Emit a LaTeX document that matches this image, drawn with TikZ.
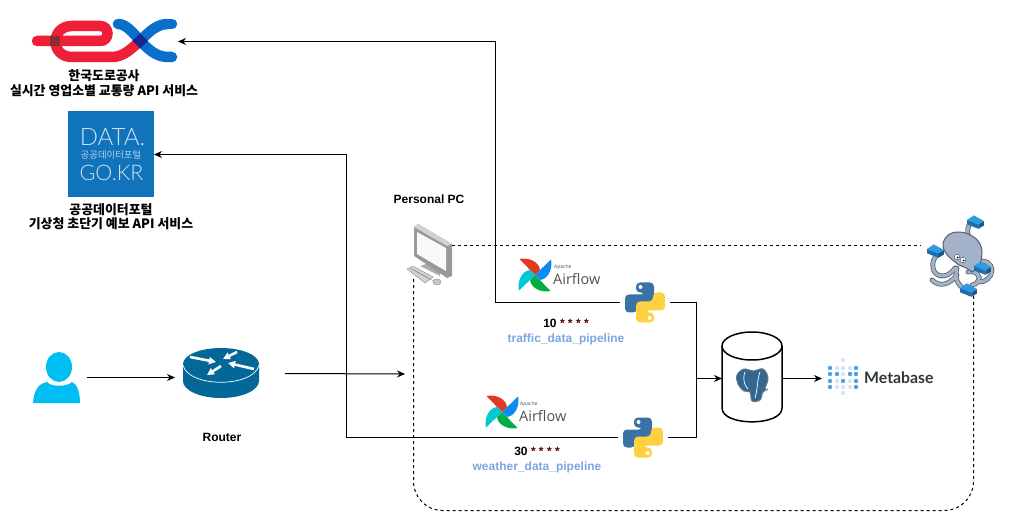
\documentclass[tikz,border=0pt]{standalone}
\usepackage{fontspec}
\setmainfont{Liberation Sans}
\newfontfamily\krfont{Noto Sans CJK KR}
\newfontfamily\lato{Lato}
\newfontfamily\latolight{Lato Light}
\newfontfamily\opensans{Open Sans}
\usepackage{xcolor}
\usetikzlibrary{arrows.meta,positioning,shapes,calc}
\definecolor{ink}{HTML}{000000}
\definecolor{exred}{HTML}{EE2038}
\definecolor{exblue}{HTML}{0A6FCB}
\definecolor{exnavy}{HTML}{14288C}
\definecolor{exdark}{HTML}{8B2B35}
\definecolor{datablue}{HTML}{1173BB}
\definecolor{datatext}{HTML}{CFE2F2}
\definecolor{usercyan}{HTML}{00BEF2}
\definecolor{routerblue}{HTML}{036897}
\definecolor{pipeblue}{HTML}{7EA6E0}
\definecolor{cronred}{HTML}{5A0000}
\definecolor{pyblue}{HTML}{3A72A5}
\definecolor{pyyellow}{HTML}{FFD140}
\definecolor{afred}{HTML}{E43921}
\definecolor{afcyan}{HTML}{00C7D4}
\definecolor{afgreen}{HTML}{00AD46}
\definecolor{afblue}{HTML}{0C8CF0}
\definecolor{afgray}{HTML}{51504F}
\definecolor{pgblue}{HTML}{336791}
\definecolor{mbdark}{HTML}{509EE3}
\definecolor{mblight}{HTML}{D6E6F7}
\definecolor{mbtext}{HTML}{2E353B}
\definecolor{octobody}{HTML}{A3B2C8}
\definecolor{octoline}{HTML}{55606E}
\definecolor{octobox}{HTML}{2E9BE0}
\definecolor{octoside}{HTML}{1B6FAE}
\tikzset{
  iconbox/.style={inner sep=0pt,outer sep=0pt},
  label/.style={font=\bfseries\fontsize{12}{14}\selectfont,color=ink,align=center,inner sep=0pt},
  krlabel/.style={font=\krfont\bfseries\fontsize{12.9}{14.6}\selectfont,color=ink,align=center,inner sep=0pt},
  pipelabel/.style={font=\bfseries\fontsize{12}{14}\selectfont,color=pipeblue,inner sep=0pt},
  flow/.style={-{Stealth[length=8pt,width=7pt]},line width=1pt,draw=ink},
  flowline/.style={line width=1pt,draw=ink},
  hostline/.style={line width=1pt,draw=ink,dash pattern=on 3pt off 3pt},
  tentacle/.style={line width=4.8pt,draw=octoline,line cap=round},
  tentaclein/.style={line width=3.2pt,draw=octobody,line cap=round}
}
\begin{document}
\begin{tikzpicture}[x=1pt,y=-1pt]
    \path[use as bounding box] (0,0) rectangle (1009,518);

    % expressway logo
    \node[iconbox,minimum width=148pt,minimum height=44pt] (exlogo) at (104,41.5) {};
    \begin{scope}[line width=10.5pt,line cap=round]
      \draw[exblue] (118,24) .. controls (134,24) and (144,57) .. (168,57) -- (172,57);
      \draw[exred] (37,41) -- (100,41) .. controls (110,41) and (110,26) .. (100,26)
        -- (72,26) .. controls (50,26) and (50,57) .. (72,57) -- (112,57)
        .. controls (124,57) and (132,48) .. (140,41);
      \draw[exblue,line cap=butt] (140,41) .. controls (148,33) and (156,24) .. (168,24);
      \draw[exblue] (168,24) -- (172,24);
      \fill[exdark] (50,36) rectangle (60,46);
      \fill[exnavy] (140,33.5) -- (148,41) -- (140,48.5) -- (132.5,41) -- cycle;
    \end{scope}
    \node[krlabel] (exlabel) at (104,83) {한국도로공사\\실시간 영업소별 교통량 API 서비스};

    % data portal logo
    \node[iconbox,fill=datablue,minimum size=86pt] (datalogo) at (111,154.5) {};
    \node[font=\latolight\fontsize{24}{24}\selectfont,color=datatext,inner sep=0pt] (datatop) at (112.5,137.5) {DATA.};
    \node[font=\krfont\fontsize{9.4}{10}\selectfont,color=datatext!85!datablue,inner sep=0pt] (datamid) at (111,155) {공공데이터포털};
    \node[font=\latolight\fontsize{21.5}{22}\selectfont,color=datatext,inner sep=0pt] (datalow) at (111.5,173) {GO.KR};
    \node[krlabel] (datalabel) at (111,216.5) {공공데이터포털\\기상청 초단기 예보 API 서비스};

    % user
    \node[iconbox,minimum width=60pt,minimum height=52pt] (user) at (57,377.5) {};
    \fill[usercyan] (59,367) ellipse (13 and 15);
    \fill[usercyan] (33,403) .. controls (34,392) and (37,384) .. (47,382)
      .. controls (51,387) and (67,387) .. (72,382)
      .. controls (77,384) and (80,392) .. (80,403) -- cycle;

    % router
    \node[iconbox,minimum width=76pt,minimum height=50pt] (router) at (221,373) {};
    \coordinate (routerin) at (175,377.5);
    \coordinate (routerout) at (285,373.5);
    \fill[routerblue] (183,364) -- (183,381) arc[start angle=180,end angle=360,x radius=38,y radius=-17]
      -- (259,364) -- cycle;
    \fill[routerblue] (221,364) ellipse (38 and 16);
    \draw[white,line width=0.7pt] (183,365) .. controls (188,388) and (254,388) .. (259,365);
    \foreach \ax/\ay/\bx/\by in {190/357/216/362, 237/352/223/359, 254/369/228/363, 221/366/207/375}{
      \draw[white,line width=2.6pt,-{Triangle[length=7pt,width=7pt]}] (\ax,\ay) -- (\bx,\by);
    }
    \node[label] (routerlabel) at (222,437) {Router};

    % personal pc
    \node[iconbox,minimum width=46pt,minimum height=60pt] (pc) at (429,252) {};
    \node[label] (pclabel) at (429,199) {Personal PC};
    \coordinate (pcright) at (452,245.5);
    \coordinate (pclow) at (413.5,278);
    \fill[gray!65] (432,262) -- (440,267) -- (440,276) -- (420,266) -- cycle;
    \fill[gray!80] (414,227) -- (418,224) -- (452,244) -- (452,276) -- (447,278) -- (414,256) -- cycle;
    \fill[gray!35] (414,227) -- (418,224) -- (452,244) -- (447,246) -- cycle;
    \fill[gray!5] (417,232) -- (446,248) -- (446,271) -- (417,254) -- cycle;
    \fill[gray!35,draw=gray!90,line width=0.4pt] (407,269) -- (413,266) -- (433,277) -- (425,283) -- cycle;
    \foreach \kx/\ky in {0/0,2.4/1.3,4.8/2.6}{
      \draw[gray!85,line width=0.4pt] (410+\kx,268+\ky) -- (428+\kx,278+\ky);
    }
    \fill[gray!45,draw=gray!90,line width=0.4pt] (437,282) ellipse (4 and 3);

    % dags
    \foreach \nm/\px/\py/\ax/\ay/\lx/\cx/\cy/\cron/\pipe in {
        traffic/645/302.5/535/275/553/566/323/10/traffic\_data\_pipeline,
        weather/643/437.5/502/412/519/537/451/30/weather\_data\_pipeline}{
      \node[iconbox,minimum width=50pt,minimum height=40pt] (py\nm) at (\px,\py) {};
      \begin{scope}[shift={(\px,\py)}]
        \foreach \col/\ang in {pyblue/0,pyyellow/180}{
          \begin{scope}[rotate=\ang]
            \fill[\col,rounded corners=4pt] (-9,-10) -- (-9,-20) -- (9,-20) -- (9,1) -- (-8,1)
              -- (-8,10) -- (-20,10) -- (-20,-8) -- (0,-8) -- (0,-10) -- cycle;
          \end{scope}
        }
        \fill[white] (-4.5,-15.5) circle (2);
        \fill[white] (4.5,15.5) circle (2);
      \end{scope}
      \node[iconbox,minimum size=32pt] (flow\nm) at (\ax,\ay) {};
      \begin{scope}[shift={(\ax,\ay)}]
        \foreach \col/\ang in {afred/0,afcyan/90,afgreen/180,afblue/270}{
          \fill[\col,rotate=\ang] (0,0) -- (-15.5,-16) .. controls (-8,-18) and (4,-14) .. (5,-5) -- cycle;
        }
      \end{scope}
      \node[font=\opensans\fontsize{14.5}{15}\selectfont,color=afgray,anchor=west,inner sep=0pt] (afname\nm) at (\lx,\ay+4) {Airflow};
      \node[font=\opensans\fontsize{5}{6}\selectfont,color=afgray,anchor=west,inner sep=0pt] (apache\nm) at (\lx+1,\ay-8) {Apache};
      \node[label] (cron\nm) at (\cx,\cy) {\cron{} {\color{cronred}* * * *}};
      \node[pipelabel] (pipe\nm) at (\cx,\cy+16) {\pipe};
    }

    % postgres
    \node[iconbox,minimum width=60pt,minimum height=90pt] (db) at (752,378.5) {};
    \draw[line width=1.5pt,draw=ink,fill=white] (722,346) -- (722,408)
      .. controls (722,426.5) and (782,426.5) .. (782,408) -- (782,346);
    \draw[line width=1.5pt,draw=ink] (752,346) ellipse (30 and 14);
    \draw[pgblue!30!gray,line width=1pt,fill=pgblue] plot[smooth cycle,tension=0.6] coordinates
      {(737,375) (744,369) (753,371) (763,369) (768,378) (765,389) (768,389) (763,392) (760,400) (752,401) (750,392) (744,391) (738,384)};
    \draw[white,line width=0.7pt] (745,372) .. controls (742,380) and (745,386) .. (748,389);
    \draw[white,line width=0.7pt] (760,372) .. controls (757,380) and (758,388) .. (755,398);

    % metabase
    \node[iconbox,minimum width=42pt,minimum height=40pt] (mbicon) at (843,378.5) {};
    \foreach \dx/\dy/\col in {843/360/mblight,
        830/368/mbdark,837/368/mblight,843/368/mblight,850/368/mblight,856/368/mbdark,
        830/374/mbdark,837/374/mbdark,843/374/mblight,850/374/mbdark,856/374/mbdark,
        830/381/mbdark,837/381/mblight,843/381/mbdark,850/381/mblight,856/381/mbdark,
        830/387/mbdark,837/387/mblight,843/387/mblight,850/387/mblight,856/387/mbdark,
        843/393/mblight}{
      \fill[\col] (\dx,\dy) circle (2.2);
    }
    \node[font=\lato\bfseries\fontsize{15.8}{16}\selectfont,color=mbtext,anchor=west,inner sep=0pt] (mbname) at (864,378) {Metabase};

    % octopus
    \node[iconbox,minimum width=64pt,minimum height=80pt] (octo) at (960,257) {};
    \coordinate (octoleft) at (921,245.5);
    \coordinate (octolow) at (973.5,296);
    \foreach \sty in {tentacle,tentaclein}{
      \draw[\sty] (968,238) .. controls (968,232) and (966,226) .. (972,222);
      \draw[\sty] (955,268) .. controls (946,281) and (934,276) .. (933,268) .. controls (932,262) and (934,258) .. (937,255);
      \draw[\sty] (957,275) .. controls (950,284) and (940,288) .. (932,280);
      \draw[\sty] (957,268) .. controls (954,278) and (958,287) .. (966,289);
      \draw[\sty] (975,263) .. controls (985,258) and (992,264) .. (992,270) .. controls (992,277) and (985,283) .. (978,282);
      \draw[\sty] (968,272) .. controls (976,270) and (982,277) .. (978,281) .. controls (976,284) and (974,285) .. (972,285);
    }
    \draw[octoline,fill=octobody,line width=1pt] (943,243) .. controls (946,234) and (952,232) .. (958,232)
      .. controls (970,232) and (982,240) .. (982,252)
      .. controls (982,262) and (978,270) .. (972,272)
      .. controls (965,266) and (958,266) .. (955,262)
      .. controls (950,258) and (942,252) .. (943,243) -- cycle;
    \fill[white,draw=octoline,line width=0.5pt] (957,257) circle (2.8);
    \fill[white,draw=octoline,line width=0.5pt] (963,260) circle (2.8);
    \fill[ink] (957.5,257.5) circle (1);
    \fill[ink] (963.5,260.5) circle (1);
    \foreach \bx/\by in {975/221,935/250,982/267,968/289}{
      \begin{scope}[shift={(\bx,\by)},scale=1.12]
        \fill[octoside] (-7,-1) -- (3,3) -- (3,7) -- (-7,3) -- cycle;
        \fill[octoside!80!black] (3,3) -- (8,0) -- (8,4) -- (3,7) -- cycle;
        \fill[octobox] (-7,-1) -- (-1,-5) -- (8,0) -- (3,3) -- cycle;
      \end{scope}
    }

    % connectors
    \draw[flow] (user.east) -- (routerin);
    \coordinate (boxin) at (405,374);
    \draw[flow] (routerout) -- (boxin);
    \coordinate (merge) at (696.5,378.5);
    \draw[flow] (pytraffic.west) -| (495.5,41.5) -- (exlogo.east);
    \draw[flow] (pyweather.west) -| (346.5,154.5) -- (datalogo.east);
    \draw[flowline] (pytraffic.east) -| (merge);
    \draw[flowline] (pyweather.east) -| (merge);
    \draw[flow] (merge) -- (db.west);
    \draw[flow] (db.east) -- (mbicon.west);
    \draw[hostline] (pcright) -- (octoleft);
    \draw[hostline,rounded corners=29pt] (octolow) -- (973.5,510.5) -- (413.5,510.5) -- (pclow);
  \end{tikzpicture}
\end{document}
